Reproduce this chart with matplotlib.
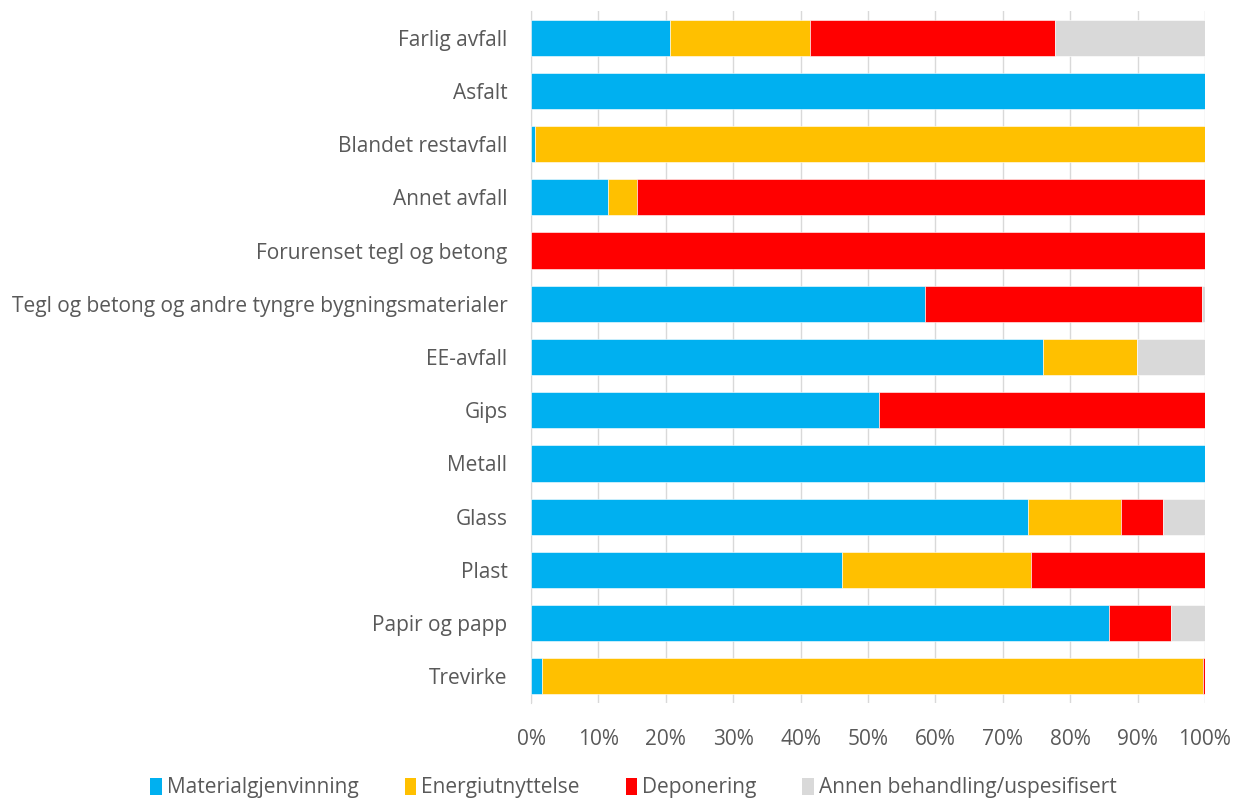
import numpy as np
import matplotlib.pyplot as plt
from matplotlib.ticker import PercentFormatter
from matplotlib.patches import Patch

plt.rcParams['font.family'] = ['Open Sans', 'DejaVu Sans']

categories = [
    "Farlig avfall",
    "Asfalt",
    "Blandet restavfall",
    "Annet avfall",
    "Forurenset tegl og betong",
    "Tegl og betong og andre tyngre bygningsmaterialer",
    "EE-avfall",
    "Gips",
    "Metall",
    "Glass",
    "Plast",
    "Papir og papp",
    "Trevirke",
]

materialgjenvinning = [20.6, 100.0, 0.6, 11.4, 0.0, 58.5, 76.0, 51.6, 100.0, 73.7, 46.1, 85.7, 1.6]
energiutnyttelse = [20.8, 0.0, 99.4, 4.4, 0.0, 0.0, 13.9, 0.0, 0.0, 13.8, 28.1, 0.0, 98.1]
deponering = [36.3, 0.0, 0.0, 84.2, 100.0, 41.0, 0.0, 48.4, 0.0, 6.2, 25.8, 9.3, 0.3]
annen = [22.3, 0.0, 0.0, 0.0, 0.0, 0.5, 10.1, 0.0, 0.0, 6.3, 0.0, 5.0, 0.0]

series = [
    ("Materialgjenvinning", materialgjenvinning, "#00b0f0"),
    ("Energiutnyttelse", energiutnyttelse, "#ffc000"),
    ("Deponering", deponering, "#ff0000"),
    ("Annen behandling/uspesifisert", annen, "#d9d9d9"),
]

fig = plt.figure(figsize=(12.35, 7.98), dpi=100)
ax = fig.add_axes([531 / 1235, 1 - 703 / 798, 674 / 1235, 692 / 798])

y = np.arange(len(categories))
left = np.zeros(len(categories))
for name, vals, color in series:
    vals = np.array(vals)
    ax.barh(y, vals, left=left, height=0.68, color=color, label=name,
            edgecolor="white", linewidth=0.4, zorder=3)
    left += vals

ax.set_ylim(len(categories) - 0.5, -0.5)
ax.set_xlim(0, 100)
ax.set_yticks(y)
ax.set_yticklabels(categories)
ax.set_xticks(np.arange(0, 101, 10))
ax.xaxis.set_major_formatter(PercentFormatter(decimals=0))

ax.grid(axis="x", color="#d9d9d9", linewidth=1, zorder=0)
for s in ["top", "right", "bottom"]:
    ax.spines[s].set_visible(False)
ax.spines["left"].set_color("#d9d9d9")
ax.tick_params(axis="both", length=0, labelsize=15, colors="#595959")
ax.tick_params(axis="y", pad=17)
ax.tick_params(axis="x", pad=19)

handles = [Patch(facecolor=c, label=n) for n, _, c in series]
leg = fig.legend(handles=handles, loc="center", bbox_to_anchor=(0.513, 1 - 788 / 798),
                 ncol=4, frameon=False, fontsize=15, handlelength=0.55,
                 handleheight=0.9, handletextpad=0.25, columnspacing=2.2)
for t in leg.get_texts():
    t.set_color("#595959")

fig.savefig("out.png", dpi=100)
